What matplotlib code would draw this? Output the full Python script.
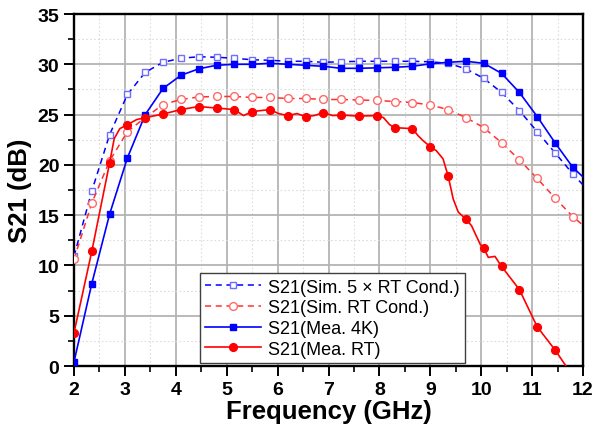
import numpy as np
import matplotlib
matplotlib.use('Agg')
import matplotlib.pyplot as plt
from matplotlib.ticker import MultipleLocator

# frequência dos marcadores (GHz)
freq = [2.00, 2.35, 2.70, 3.05, 3.40, 3.75, 4.10, 4.45, 4.80, 5.15,
        5.50, 5.85, 6.20, 6.55, 6.90, 7.25, 7.60, 7.95, 8.30, 8.65,
        9.00, 9.35, 9.70, 10.05, 10.40, 10.75, 11.10, 11.45, 11.80]

# S21 simulado, 5 x condutividade RT
sim5_db = [10.9, 17.4, 23.0, 27.0, 29.2, 30.2, 30.6, 30.75, 30.7, 30.6,
           30.45, 30.4, 30.3, 30.3, 30.2, 30.25, 30.3, 30.3, 30.3, 30.3,
           30.25, 30.1, 29.55, 28.6, 27.2, 25.4, 23.3, 21.2, 19.1]

# S21 simulado, condutividade RT
simrt_db = [10.6, 16.2, 20.4, 23.3, 24.7, 26.0, 26.5, 26.75, 26.8, 26.8,
            26.7, 26.7, 26.6, 26.6, 26.5, 26.5, 26.45, 26.4, 26.3, 26.2,
            25.95, 25.5, 24.7, 23.7, 22.2, 20.5, 18.65, 16.7, 14.85]

# S21 medido a 4K
mea4k_db = [0.4, 8.2, 15.1, 20.7, 25.0, 27.6, 28.9, 29.55, 29.9, 30.0,
            30.0, 30.1, 30.0, 29.9, 29.8, 29.6, 29.6, 29.65, 29.7, 29.8,
            30.05, 30.2, 30.3, 30.1, 29.1, 27.2, 24.8, 22.2, 19.75]

# S21 medido a temperatura ambiente (curva lida com mais pontos)
meart_f = [2.00, 2.35, 2.70, 2.79, 2.90, 3.05, 3.23, 3.40, 3.75, 4.10,
           4.45, 4.80, 5.15, 5.33, 5.50, 5.85, 6.02, 6.20, 6.38, 6.55,
           6.72, 6.90, 7.08, 7.25, 7.60, 7.95, 8.08, 8.20, 8.30, 8.65,
           8.76, 8.86, 9.00, 9.12, 9.25, 9.35, 9.45, 9.55, 9.70, 9.81,
           9.98, 10.05, 10.14, 10.27, 10.40, 10.75, 11.10, 11.45, 11.80]
meart_db = [3.3, 11.4, 20.2, 22.6, 23.6, 24.0, 24.5, 24.7, 25.05, 25.5,
            25.8, 25.65, 25.5, 24.9, 25.3, 25.5, 25.1, 24.9, 25.1, 24.8,
            24.9, 25.2, 24.9, 24.95, 24.85, 24.9, 24.7, 24.0, 23.7, 23.6,
            22.9, 22.4, 21.8, 21.4, 20.6, 18.9, 16.6, 15.3, 14.6, 13.95,
            12.1, 11.7, 10.8, 10.9, 9.9, 7.6, 3.9, 1.6, -1.0]

# pontos finais das curvas em 12 GHz (sem marcador)
sim5_end = 18.0
simrt_end = 14.0
mea4k_end = 18.8

plt.rcParams['font.family'] = ['Liberation Sans', 'DejaVu Sans']

fig = plt.figure(figsize=(6, 4.35), dpi=100)
ax = fig.add_axes([0.1233, 0.1563, 0.8484, 0.8092])

blue = '#0000ff'
red = '#ff0000'
marks = list(range(len(freq)))
meart_marks = [i for i, f in enumerate(meart_f) if f in freq]

ax.plot(freq + [12], sim5_db + [sim5_end], color=blue, lw=1.1, ls=(0, (4, 3)),
        marker='s', markersize=5, markerfacecolor='white',
        markeredgecolor='#6f6fff', markeredgewidth=1.0, markevery=marks,
        label='S21(Sim. 5 × RT Cond.)', zorder=3)
ax.plot(freq + [12], simrt_db + [simrt_end], color='#ff3030', lw=1.1, ls=(0, (4, 3)),
        marker='o', markersize=5.6, markerfacecolor='white',
        markeredgecolor='#ff6a6a', markeredgewidth=1.0, markevery=marks,
        label='S21(Sim. RT Cond.)', zorder=3)
ax.plot(freq + [12], mea4k_db + [mea4k_end], color=blue, lw=1.2,
        marker='s', markersize=4.8, markerfacecolor=blue, markeredgecolor=blue,
        markevery=marks, label='S21(Mea. 4K)', zorder=4)
ax.plot(meart_f, meart_db, color=red, lw=1.2,
        marker='o', markersize=5.6, markerfacecolor=red, markeredgecolor=red,
        markevery=meart_marks, label='S21(Mea. RT)', zorder=4)

ax.set_xlim(2, 12)
ax.set_ylim(0, 35)
ax.xaxis.set_major_locator(MultipleLocator(1))
ax.xaxis.set_minor_locator(MultipleLocator(0.5))
ax.yaxis.set_major_locator(MultipleLocator(5))
ax.yaxis.set_minor_locator(MultipleLocator(2.5))

ax.grid(which='major', color='#b4b4b4', lw=1.3, ls='-')
ax.grid(which='minor', color='#dcdcdc', lw=0.8, ls=(0, (1.5, 2)))
ax.set_axisbelow(True)

for s in ax.spines.values():
    s.set_linewidth(1.7)
ax.tick_params(which='major', direction='out', length=7, width=1.4,
               labelsize=14, top=False, right=False)
ax.tick_params(which='minor', direction='out', length=4.5, width=1.2,
               top=False, right=False)
for lab in ax.get_xticklabels() + ax.get_yticklabels():
    lab.set_fontweight('bold')

ax.set_xlabel('Frequency (GHz)', fontsize=18.5, fontweight='bold', labelpad=1)
ax.set_ylabel('S21 (dB)', fontsize=18.5, fontweight='bold', labelpad=4)

leg = ax.legend(loc='lower left', bbox_to_anchor=(0.2475, 0.0085), borderaxespad=0,
                fontsize=13, frameon=True, fancybox=False, framealpha=1,
                edgecolor='#404040', handlelength=3.1, handletextpad=0.35,
                labelspacing=0.2, borderpad=0.3)
leg.get_frame().set_linewidth(1.0)

fig.savefig('out.png', dpi=100)
